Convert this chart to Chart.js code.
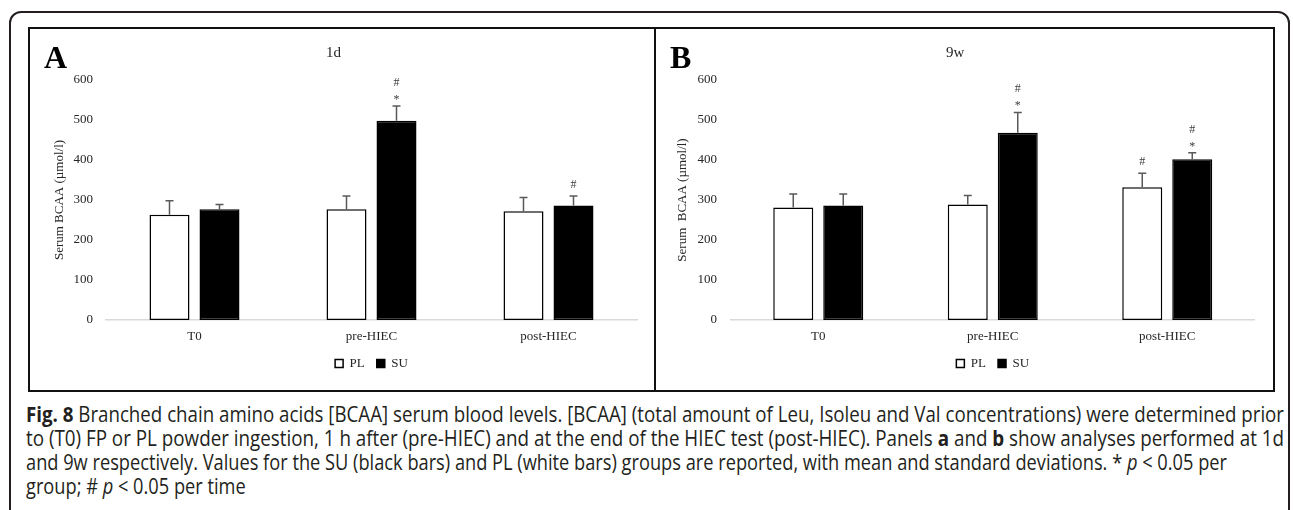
<!DOCTYPE html>
<html>
<head>
<meta charset="utf-8">
<script src="https://cdn.jsdelivr.net/npm/chart.js@4.4.1/dist/chart.umd.min.js"></script>
<style>
  html, body { margin: 0; padding: 0; background: #fff; }
  body { width: 1293px; height: 510px; position: relative; overflow: hidden; }
  .outer { position: absolute; left: 9px; top: 11px; width: 1281px; height: 560px; border: 2px solid #231f20; border-radius: 12px; box-sizing: border-box; }
  .panel { position: absolute; top: 27px; height: 365px; border: 2px solid #111; box-sizing: border-box; }
  #panelA { left: 28px; width: 628px; }
  #panelB { left: 654px; width: 621px; }
  .tag { position: absolute; top: 41px; font: bold 32px "Liberation Serif", "Times New Roman", serif; line-height: 32px; color: #000; }
  .chartBox { position: absolute; top: 29px; height: 360px; }
  .caption { position: absolute; left: 26px; top: 402px; font-family: "Liberation Sans Narrow", "Open Sans", sans-serif; font-size: 21px; line-height: 24px; color: #231f20; }
  .caption div { white-space: nowrap; transform-origin: left center; width: max-content; }
</style>
</head>
<body>
<div class="outer"></div>
<div class="panel" id="panelA"></div>
<div class="panel" id="panelB"></div>

<div class="chartBox" style="left:30px;width:623px"><canvas id="chartA" width="623" height="360"></canvas></div>
<div class="chartBox" style="left:656px;width:617px"><canvas id="chartB" width="617" height="360"></canvas></div>

<div class="tag" style="left:44px">A</div>
<div class="tag" style="left:670px">B</div>

<div class="caption">
  <div data-w="1258"><b>Fig. 8</b> Branched chain amino acids [BCAA] serum blood levels. [BCAA] (total amount of Leu, Isoleu and Val concentrations) were determined prior</div>
  <div data-w="1258">to (T0) FP or PL powder ingestion, 1 h after (pre-HIEC) and at the end of the HIEC test (post-HIEC). Panels <b>a</b> and <b>b</b> show analyses performed at 1d</div>
  <div data-w="1201">and 9w respectively. Values for the SU (black bars) and PL (white bars) groups are reported, with mean and standard deviations. * <i>p</i> &lt; 0.05 per</div>
  <div>group; # <i>p</i> &lt; 0.05 per time</div>
</div>

<script>
// categories and tick values
const categories = ["T0", "pre-HIEC", "post-HIEC"];
const yTicks = [0, 100, 200, 300, 400, 500, 600];
const seriesNames = ["PL", "SU"];

// panel A (1d)
const plMeanA = [263, 277, 272];
const plSdA = [35, 33, 34];
const suMeanA = [277, 498, 286];
const suSdA = [12, 37, 24];
const plMarksA = [[], [], []];
const suMarksA = [[], ["*", "#"], ["#"]];

// panel B (9w)
const plMeanB = [281, 289, 332];
const plSdB = [34, 22, 35];
const suMeanB = [286, 468, 402];
const suSdB = [29, 51, 16];
const plMarksB = [[], [], ["#"]];
const suMarksB = [[], ["*", "#"], ["*", "#"]];

const serif = '"Liberation Serif", "Times New Roman", serif';
const textCol = "#262626";
Chart.defaults.font.family = serif;
Chart.defaults.color = textCol;

// error bars (top whisker only) and significance marks
const errorBars = {
  id: "errorBars",
  afterDatasetsDraw(chart) {
    const { ctx } = chart;
    const y = chart.scales.y;
    ctx.save();
    chart.data.datasets.forEach((ds, i) => {
      const meta = chart.getDatasetMeta(i);
      meta.data.forEach((bar, j) => {
        const top = y.getPixelForValue(ds.data[j] + ds.sd[j]);
        ctx.strokeStyle = "#595959";
        ctx.lineWidth = 1.5;
        ctx.beginPath();
        ctx.moveTo(bar.x, bar.y);
        ctx.lineTo(bar.x, top);
        ctx.moveTo(bar.x - 4, top);
        ctx.lineTo(bar.x + 4, top);
        ctx.stroke();

        ctx.fillStyle = "#404040";
        ctx.font = "12px " + serif;
        ctx.textAlign = "center";
        ctx.textBaseline = "alphabetic";
        ds.marks[j].forEach((m, k) => {
          const off = k === 0 ? (m === "*" ? 3 : 8) : 20;
          ctx.fillText(m, bar.x, top - off);
        });
      });
    });
    ctx.restore();
  }
};

function makeChart(id, title, pl, plSd, plMarks, su, suSd, suMarks, lay) {
  const ctx = document.getElementById(id).getContext("2d");
  return new Chart(ctx, {
    type: "bar",
    data: {
      labels: categories,
      datasets: [
        {
          label: seriesNames[0],
          data: pl,
          sd: plSd,
          marks: plMarks,
          backgroundColor: "#ffffff",
          borderColor: "#000000",
          borderWidth: 1.5,
          borderSkipped: false,
          barPercentage: 0.8,
          categoryPercentage: lay.cat
        },
        {
          label: seriesNames[1],
          data: su,
          sd: suSd,
          marks: suMarks,
          backgroundColor: "#000000",
          borderColor: "#000000",
          borderWidth: 1.5,
          borderSkipped: false,
          barPercentage: 0.8,
          categoryPercentage: lay.cat
        }
      ]
    },
    options: {
      responsive: false,
      animation: false,
      layout: { padding: { left: 0, right: lay.right, top: 0, bottom: 9 } },
      plugins: {
        title: {
          display: true,
          text: title,
          color: textCol,
          font: { size: 15, weight: "normal" },
          padding: { top: 15, bottom: 18 }
        },
        legend: {
          position: "bottom",
          fullSize: false,
          labels: {
            boxWidth: 8,
            boxHeight: 8,
            padding: 12,
            color: textCol,
            font: { size: 13 }
          }
        },
        tooltip: { enabled: false }
      },
      scales: {
        x: {
          grid: { display: false, drawTicks: false },
          border: { display: true, color: "#d9d9d9", width: 1.5 },
          ticks: { padding: 9, color: textCol, font: { size: 13 } },
          afterFit: (s) => { s.height = 25; }
        },
        y: {
          min: 0,
          max: 600,
          grid: { display: false, drawTicks: false },
          border: { display: false },
          afterBuildTicks: (s) => { s.ticks = yTicks.map((v) => ({ value: v })); },
          ticks: { padding: lay.tickPad, color: textCol, font: { size: 13 } },
          title: {
            display: true,
            text: lay.yTitle,
            color: textCol,
            font: { size: 13 },
            padding: { top: lay.titlePad, bottom: 0 }
          },
          afterFit: (s) => { s.width = lay.yWidth; }
        }
      }
    },
    plugins: [errorBars]
  });
}

makeChart("chartA", "1d", plMeanA, plSdA, plMarksA, suMeanA, suSdA, suMarksA,
  { right: 16, tickPad: 13, titlePad: 22, yWidth: 76, cat: 0.565, yTitle: "Serum BCAA (\u00b5mol/l)" });
makeChart("chartB", "9w", plMeanB, plSdB, plMarksB, suMeanB, suSdB, suMarksB,
  { right: 18.5, tickPad: 14, titlePad: 19, yWidth: 75, cat: 0.573, yTitle: "Serum  BCAA (\u00b5mol/l)" });

// squeeze caption lines to the widths in the figure
const capLines = document.querySelectorAll(".caption div");
let lastK = 1;
capLines.forEach((el) => {
  const w = el.getBoundingClientRect().width;
  const target = parseFloat(el.dataset.w);
  const k = target ? target / w : lastK;
  el.style.transform = "scaleX(" + k + ")";
  lastK = k;
});
</script>
</body>
</html>
